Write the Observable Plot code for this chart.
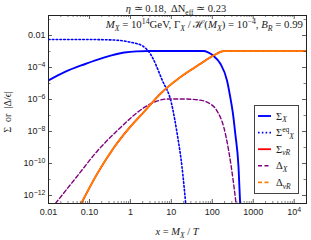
<!DOCTYPE html>
<html><head><meta charset="utf-8">
<script src="https://cdn.jsdelivr.net/npm/d3@7"></script>
<script src="https://cdn.jsdelivr.net/npm/@observablehq/plot@0.6"></script>
<style>body{margin:0;background:#fff}svg{display:block}</style>
</head><body><div id="chart"></div>
<script>
// ---- data ----
const sigmaX_x = [0.01, 0.0245, 0.0759, 0.234, 0.708, 1.4, 3, 10, 60, 79, 105, 158, 229, 275, 316, 363, 437, 479];
const sigmaX_y = [1.55e-5, 5.1e-5, 1.6e-4, 4.3e-4, 8.6e-4, 1.02e-3, 1.07e-3, 1.08e-3, 1.07e-3, 8.9e-4, 5.6e-4, 1.7e-4, 1.55e-5, 1.4e-6, 1.6e-7, 7.9e-9, 6.3e-11, 3.2e-13];

const sigmaEq_x = [0.01, 0.1, 0.4, 1, 2, 3.16, 6, 10, 13.8, 18.2, 22.4];
const sigmaEq_y = [5.6e-3, 5.6e-3, 5.2e-3, 3.8e-3, 2.2e-3, 6.3e-4, 1.6e-5, 6.3e-7, 7.9e-9, 6.3e-11, 3.2e-13];

const nuR_x = [0.0631, 0.158, 0.398, 1, 2.19, 5.37, 16.6, 51.3, 107, 191, 316, 20000];
const sigmaNuR_y = [3.2e-13, 2.5e-11, 1e-9, 2e-8, 1.78e-7, 2.24e-6, 2.5e-5, 1.7e-4, 5.6e-4, 1.05e-3, 1.07e-3, 1.07e-3];
const deltaNuR_y = [3.2e-13, 2.5e-11, 1e-9, 2e-8, 1.78e-7, 2.24e-6, 2.5e-5, 1.7e-4, 5.6e-4, 1.05e-3, 1.07e-3, 1.07e-3];

const deltaX_x = [0.0148, 0.0501, 0.158, 0.501, 2.19, 3.98, 7.94, 20, 44.7, 74.1, 129, 191, 251, 331, 380];
const deltaX_y = [3.2e-13, 1.6e-11, 6.3e-10, 1.26e-8, 3.2e-7, 7.1e-7, 1.07e-6, 1.07e-6, 9.5e-7, 6.8e-7, 2.0e-7, 1.86e-8, 6.5e-10, 5.6e-12, 3.2e-13];

const xMajor = [0.01, 0.1, 1, 10, 100, 1000, 10000];
const xMajorLabels = ["0.01", "0.10", "1", "10", "100", "1000", "10^4"];
const yMajor = [1e-12, 1e-10, 1e-8, 1e-6, 1e-4, 1e-2];
const yMajorLabels = ["10^-12", "10^-10", "10^-8", "10^-6", "10^-4", "0.01"];
const yMinor = [1e-11, 1e-9, 1e-7, 1e-5, 1e-3, 1e-1];
const xMinor = [];
for (const d of xMajor) for (let k = 2; k <= 9; k++) if (d * k <= 2e4) xMinor.push(d * k);

const rows = (xs, ys) => xs.map((x, i) => ({x, y: ys[i]}));

const W = 311, H = 240, mL = 48, mR = 5, mT = 15, mB = 37;
const iW = W - mL - mR, iH = H - mT - mB;
const tickC = "#333";
const xLab = new Map(xMajor.map((d, i) => [d, xMajorLabels[i]]));
const yLab = new Map(yMajor.map((d, i) => [d, yMajorLabels[i]]));

const blue = "#0000ff", red = "#ff0000", purple = "#800080", orange = "#ff8000";

const svg = Plot.plot({
  width: W, height: H,
  marginLeft: mL, marginRight: mR, marginTop: mT, marginBottom: mB,
  style: {fontFamily: "'Liberation Sans', Arial, sans-serif", fontSize: "9px", background: "#fff", color: "#222"},
  x: {type: "log", domain: [0.01, 2e4], axis: null},
  y: {type: "log", domain: [3.16e-13, 0.178], axis: null},
  marks: [
    Plot.line(rows(sigmaEq_x, sigmaEq_y), {x: "x", y: "y", stroke: blue, strokeWidth: 1.6, strokeDasharray: "1.6,2.2", curve: "monotone-x", clip: true}),
    Plot.line(rows(sigmaX_x, sigmaX_y), {x: "x", y: "y", stroke: blue, strokeWidth: 1.9, curve: "monotone-x", clip: true}),
    Plot.line(rows(deltaX_x, deltaX_y), {x: "x", y: "y", stroke: purple, strokeWidth: 1.4, strokeDasharray: "4,2.5", curve: "monotone-x", clip: true}),
    Plot.line(rows(nuR_x, sigmaNuR_y), {x: "x", y: "y", stroke: red, strokeWidth: 1.8, curve: "monotone-x", clip: true}),
    Plot.line(rows(nuR_x, deltaNuR_y), {x: "x", y: "y", stroke: orange, strokeWidth: 1.8, strokeDasharray: "5,1.5", curve: "monotone-x", clip: true}),
    // inward frame ticks
    Plot.ruleX(xMajor, {x: d => d, insetTop: iH - 4, stroke: tickC, strokeWidth: 0.8}),
    Plot.ruleX(xMajor, {x: d => d, insetBottom: iH - 4, stroke: tickC, strokeWidth: 0.8}),
    Plot.ruleX(xMinor, {x: d => d, insetTop: iH - 2, stroke: tickC, strokeWidth: 0.6}),
    Plot.ruleX(xMinor, {x: d => d, insetBottom: iH - 2, stroke: tickC, strokeWidth: 0.6}),
    Plot.ruleY(yMajor, {y: d => d, insetRight: iW - 4, stroke: tickC, strokeWidth: 0.8}),
    Plot.ruleY(yMajor, {y: d => d, insetLeft: iW - 4, stroke: tickC, strokeWidth: 0.8}),
    Plot.ruleY(yMinor, {y: d => d, insetRight: iW - 2.5, stroke: tickC, strokeWidth: 0.6}),
    Plot.ruleY(yMinor, {y: d => d, insetLeft: iW - 2.5, stroke: tickC, strokeWidth: 0.6}),
    Plot.frame({stroke: "#222", strokeWidth: 1}),
    Plot.axisX(xMajor, {tickSize: 0, tickPadding: 5, tickFormat: d => xLab.get(d), label: null, fill: "#222"}),
    Plot.axisY(yMajor, {tickSize: 0, tickPadding: 3, tickFormat: d => yLab.get(d), label: null, fill: "#222"})
  ]
});
document.getElementById("chart").appendChild(svg);

const S = d3.select(svg);
// turn "10^k" tick labels into 10 with a real superscript
S.selectAll("text").each(function () {
  const el = d3.select(this);
  if (el.selectAll("tspan").size() > 0) return;
  const s = el.text();
  const m = /^10\^(-?\d+)$/.exec(s);
  if (!m) return;
  el.text(null);
  el.append("tspan").text("10");
  el.append("tspan").text(m[1].replace("-", "−")).attr("font-size", 7).attr("dy", "-0.45em");
});

// ---- texts with sub/superscripts, legend ----
const serif = "'Liberation Serif', 'Times New Roman', serif";
function rich(x, y, parts, opts = {}) {
  const size = opts.size || 10;
  const t = S.append("text").attr("x", x).attr("y", y)
    .attr("font-family", serif).attr("font-size", size)
    .attr("fill", "#222").attr("text-anchor", opts.anchor || "start");
  if (opts.transform) t.attr("transform", opts.transform);
  let shift = 0;
  for (const p of parts) {
    const [s, kind, italic] = Array.isArray(p) ? p : [p, null, false];
    const sp = t.append("tspan").text(s);
    let target = 0;
    if (kind === "sub") target = size * 0.25;
    if (kind === "sup") target = -size * 0.4;
    sp.attr("dy", target - shift);
    shift = target;
    if (kind) sp.attr("font-size", size * 0.72);
    if (italic) sp.attr("font-style", "italic");
  }
  return t;
}
// title
rich(176, 12, [["η", null, true], " ≃ 0.18,  ΔN", ["eff", "sub"], [" ≃ 0.23", null]], {anchor: "middle", size: 10.5});
// annotation inside
rich(303, 28, [["M", null, true], ["X", "sub", true], " = 10", ["14", "sup"], ["GeV, Γ", null], ["X", "sub", true], [" / ℋ(", null], ["M", null, true], ["X", "sub", true], [") = 10", null], ["−4", "sup"], [", ", null], ["B", null, true], ["R", "sub", true], [" = 0.99", null]], {anchor: "end", size: 10.8});
// y label
rich(0, 0, ["Σ  or  |Δ/ϵ|"], {anchor: "middle", transform: "translate(11,112) rotate(-90)"});
// x label
rich(177, 235, [["x", null, true], " = ", ["M", null, true], ["X", "sub", true], [" / ", null], ["T", null, true]], {anchor: "middle", size: 10.5});

// legend
S.append("rect").attr("x", 254.5).attr("y", 105.5).attr("width", 44).attr("height", 88)
  .attr("fill", "#fff").attr("stroke", "#444").attr("stroke-width", 1);
const leg = [
  {c: blue, w: 1.9, da: null, parts: ["Σ", ["X", "sub", true]]},
  {c: blue, w: 1.6, da: "1.6,2.2", parts: ["Σ", ["eq", "sup"], ["X", "sub", true]]},
  {c: red, w: 1.8, da: null, parts: ["Σ", ["νR", "sub", true]]},
  {c: purple, w: 1.6, da: "4,2.5", parts: ["Δ", ["X", "sub", true]]},
  {c: orange, w: 1.8, da: "4,2.5", parts: ["Δ", ["νR", "sub", true]]}
];
leg.forEach((e, i) => {
  const y = 116 + i * 16.6;
  const l = S.append("line").attr("x1", 258).attr("x2", 271).attr("y1", y).attr("y2", y)
    .attr("stroke", e.c).attr("stroke-width", e.w);
  if (e.da) l.attr("stroke-dasharray", e.da);
  rich(276, y + 3.5, e.parts, {size: 10.5});
});
</script></body></html>
